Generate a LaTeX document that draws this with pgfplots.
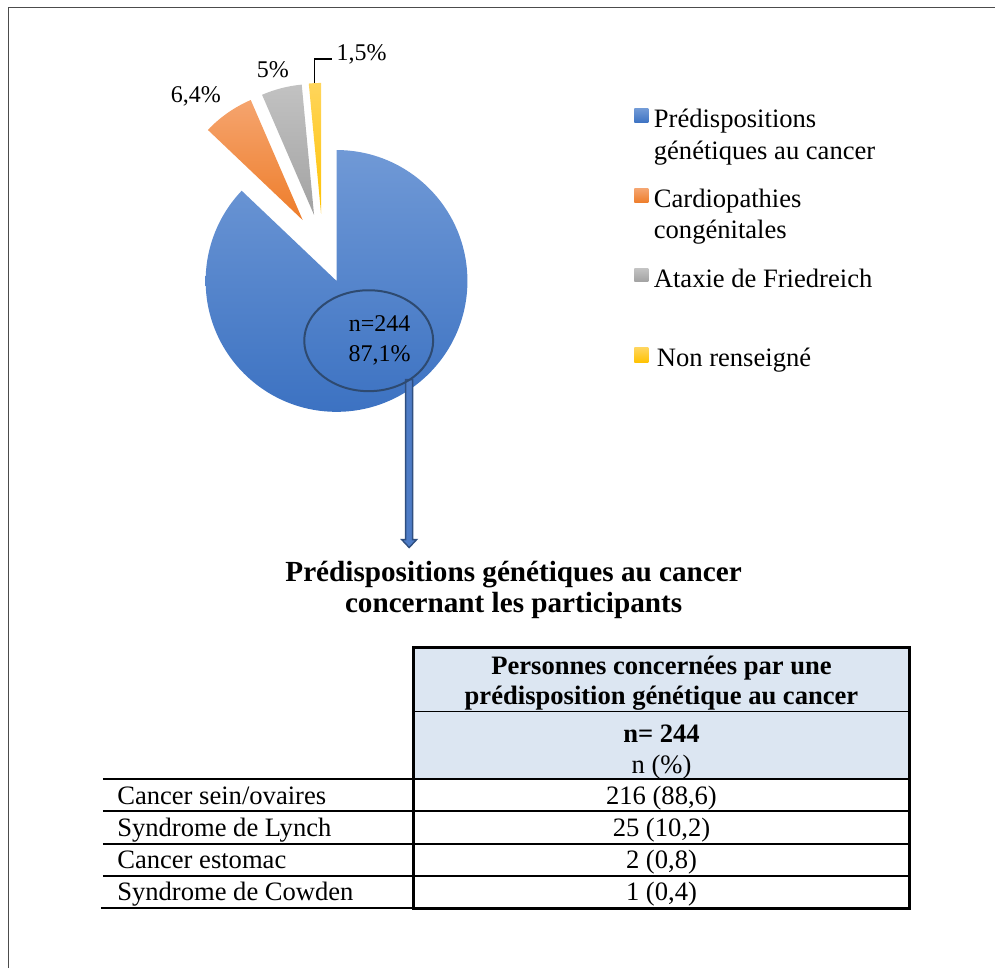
\documentclass[border=0pt]{standalone}
\usepackage{pgfplots}
\pgfplotsset{compat=1.18}
\usepackage{fontspec}
\setmainfont{Liberation Serif}
\usetikzlibrary{calc}
\definecolor{blueT}{HTML}{7099D6}
\definecolor{blueB}{HTML}{3C72C2}
\definecolor{orangeT}{HTML}{F5A46E}
\definecolor{orangeB}{HTML}{EE7D2A}
\definecolor{greyT}{HTML}{C2C2C2}
\definecolor{greyB}{HTML}{A2A2A2}
\definecolor{yellowT}{HTML}{FFD55C}
\definecolor{yellowB}{HTML}{FFC200}
\definecolor{ellc}{HTML}{2E4A70}
\definecolor{arrc}{HTML}{2F4F80}
\definecolor{arrf}{HTML}{4E7CC6}
\definecolor{hdr}{HTML}{DCE6F2}
\newcommand\lgfont{\fontsize{13.3}{16}\selectfont}
\newcommand\pifont{\fontsize{12}{14}\selectfont}
\newcommand\tifont{\fontsize{14.6}{17}\selectfont\bfseries}
\begin{document}
\begin{tikzpicture}
\begin{axis}[scale only axis, width=498pt, height=484.5pt,
  xmin=0, xmax=996, ymin=0, ymax=969, enlargelimits=false,
  hide axis, clip=false]
\pgfplotsextra{
  \path (axis cs:0,0) rectangle (axis cs:996,969);
  % frame
  \draw[gray!60!black, line width=0.8pt] (axis cs:8.5,0) -- (axis cs:8.5,961.5) -- (axis cs:996,961.5);
  % pie slices: value (%), top colour, bottom colour
  \gdef\cum{0}
  \foreach \v/\tc/\bc in {87.1/blueT/blueB,6.4/orangeT/orangeB,5/greyT/greyB,1.5/yellowT/yellowB}{
    \pgfmathsetmacro\sa{90-3.6*\cum}
    \pgfmathsetmacro\ea{\sa-3.6*\v}
    \pgfmathsetmacro\ma{(\sa+\ea)/2}
    \path[top color=\tc, bottom color=\bc] ($(axis cs:323,720)+(\ma:17.5pt)$) -- ++(\sa:65.5pt) arc[start angle=\sa, end angle=\ea, radius=65.5pt] -- cycle;
    \pgfmathsetmacro\nc{\cum+\v}\xdef\cum{\nc}
  }
  % slice labels
  \node[font=\pifont, inner sep=0] at (axis cs:196,873) {6,4\%};
  \node[font=\pifont, inner sep=0] at (axis cs:273,899) {5\%};
  \node[font=\pifont, inner sep=0] at (axis cs:362,915) {1,5\%};
  \draw[black, line width=0.6pt] (axis cs:315,886) -- (axis cs:315,910) -- (axis cs:332,910);
  % arrow
  \filldraw[fill=arrf, draw=arrc, line width=0.7pt] (axis cs:406,589) -- (axis cs:413,589) -- (axis cs:413,429) -- (axis cs:417,429) -- (axis cs:409.5,421) -- (axis cs:402,429) -- (axis cs:406,429) -- cycle;
  % ellipse
  \draw[ellc, line width=1pt] (axis cs:369,628) ellipse [x radius=32.25pt, y radius=25.25pt];
  \node[font=\pifont, inner sep=0, align=center] at (axis cs:380,628) {n=244\\[1pt]87,1\%};
  % legend
  \path[top color=blueT, bottom color=blueB] (axis cs:635,846) rectangle (axis cs:649,860);
  \path[top color=orangeT, bottom color=orangeB] (axis cs:635,766) rectangle (axis cs:649,780);
  \path[top color=greyT, bottom color=greyB] (axis cs:635,687) rectangle (axis cs:649,700);
  \path[top color=yellowT, bottom color=yellowB] (axis cs:635,606) rectangle (axis cs:649,621);
  \node[font=\lgfont, inner sep=0, anchor=base west] at (axis cs:654,841) {Prédispositions};
  \node[font=\lgfont, inner sep=0, anchor=base west] at (axis cs:654,809) {génétiques au cancer};
  \node[font=\lgfont, inner sep=0, anchor=base west] at (axis cs:654,761) {Cardiopathies};
  \node[font=\lgfont, inner sep=0, anchor=base west] at (axis cs:654,730) {congénitales};
  \node[font=\lgfont, inner sep=0, anchor=base west] at (axis cs:654,681) {Ataxie de Friedreich};
  \node[font=\lgfont, inner sep=0, anchor=base west] at (axis cs:657,602) {Non renseigné};
  % title
  \node[font=\tifont, inner sep=0, anchor=base] at (axis cs:514,387) {Prédispositions génétiques au cancer};
  \node[font=\tifont, inner sep=0, anchor=base] at (axis cs:514,356) {concernant les participants};
  % table
  \fill[hdr] (axis cs:414,189) rectangle (axis cs:910,321);
  \draw[black, line width=0.75pt] (axis cs:414,257) -- (axis cs:910,257);
  \foreach \yy in {189,157,124.5,92}{
    \draw[black, line width=1pt] (axis cs:103,\yy) -- (axis cs:910,\yy);
  }
  \draw[black, line width=1pt] (axis cs:101,60) -- (axis cs:414,60);
  \draw[black, line width=1.5pt] (axis cs:414,60) rectangle (axis cs:910,321);
  \node[font=\lgfont\bfseries, inner sep=0, anchor=base] at (axis cs:662,294) {Personnes concernées par une};
  \node[font=\lgfont\bfseries, inner sep=0, anchor=base] at (axis cs:662,264) {prédisposition génétique au cancer};
  \node[font=\lgfont\bfseries, inner sep=0, anchor=base] at (axis cs:662,226) {n= 244};
  \node[font=\lgfont, inner sep=0, anchor=base] at (axis cs:662,195) {n (\%)};
  \node[font=\lgfont, inner sep=0, anchor=base] at (axis cs:662,164) {216 (88,6)};
  \node[font=\lgfont, inner sep=0, anchor=base] at (axis cs:662,132) {25 (10,2)};
  \node[font=\lgfont, inner sep=0, anchor=base] at (axis cs:662,100) {2 (0,8)};
  \node[font=\lgfont, inner sep=0, anchor=base] at (axis cs:662,68) {1 (0,4)};
  \node[font=\lgfont, inner sep=0, anchor=base west] at (axis cs:117,164) {Cancer sein/ovaires};
  \node[font=\lgfont, inner sep=0, anchor=base west] at (axis cs:117,132) {Syndrome de Lynch};
  \node[font=\lgfont, inner sep=0, anchor=base west] at (axis cs:117,100) {Cancer estomac};
  \node[font=\lgfont, inner sep=0, anchor=base west] at (axis cs:117,68) {Syndrome de Cowden};
}
\end{axis}
\end{tikzpicture}
\end{document}
